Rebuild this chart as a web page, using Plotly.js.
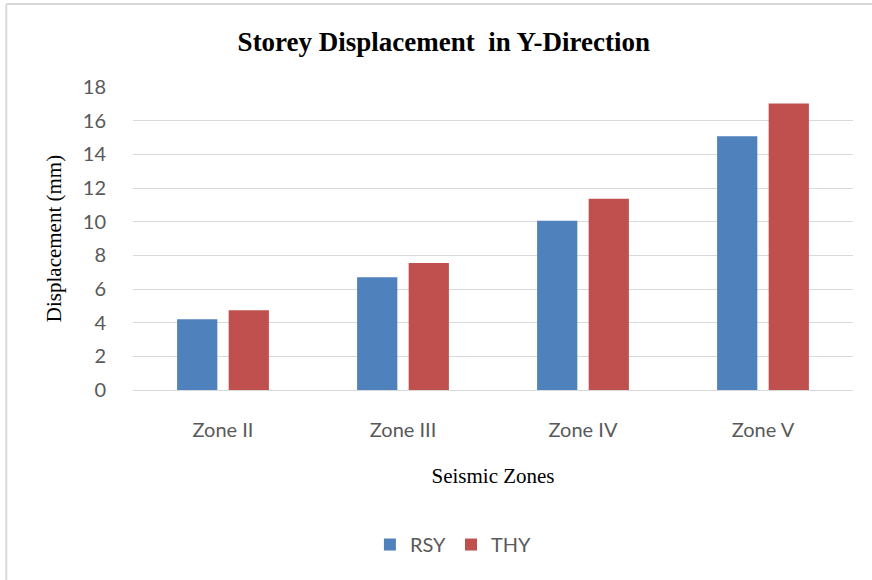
<!DOCTYPE html>
<html>
<head>
<meta charset="utf-8">
<script src="https://cdn.plot.ly/plotly-3.0.1.min.js"></script>
<style>html,body{margin:0;padding:0;background:#fff;}#chart{width:872px;height:580px;}</style>
</head>
<body>
<div id="chart"></div>
<script>
var zones = ["Zone II", "Zone III", "Zone IV", "Zone V"];
var rsy = [4.20, 6.70, 10.05, 15.08];
var thy = [4.74, 7.55, 11.36, 17.02];
var yTicks = [0, 2, 4, 6, 8, 10, 12, 14, 16, 18];

var traces = [
  {type: "bar", name: "RSY", x: zones, y: rsy, marker: {color: "#4F81BD", line: {width: 0}}, hoverinfo: "none"},
  {type: "bar", name: "THY", x: zones, y: thy, marker: {color: "#C0504D", line: {width: 0}}, hoverinfo: "none"}
];

var tickFont = {family: "Lato, 'Open Sans', sans-serif", size: 20, color: "#595959"};
var serif = "'Liberation Serif', 'Times New Roman', serif";

var layout = {
  width: 872, height: 580,
  margin: {l: 133, r: 19, t: 87, b: 190},
  paper_bgcolor: "#ffffff", plot_bgcolor: "#ffffff",
  barmode: "group", bargap: 0.427, bargroupgap: 0.22,
  showlegend: true,
  title: {text: "<b>Storey Displacement\u00a0 in Y-Direction</b>", font: {family: serif, size: 27, color: "#000"}, x: 0.509, xanchor: "center", y: 0.928, yanchor: "middle"},
  xaxis: {
    type: "category", showgrid: false, zeroline: false,
    showline: true, linecolor: "#d9d9d9", linewidth: 1,
    ticks: "outside", ticklen: 22, tickcolor: "rgba(0,0,0,0)",
    tickfont: tickFont,
    title: {text: "Seismic Zones", font: {family: serif, size: 21, color: "#000"}, standoff: 28}
  },
  yaxis: {
    range: [0, 18], tickvals: yTicks, ticktext: yTicks.map(String),
    showgrid: true, gridcolor: "#d9d9d9", gridwidth: 1, zeroline: false,
    showline: false, ticks: "outside", ticklen: 22, tickcolor: "rgba(0,0,0,0)",
    tickfont: tickFont,
    title: {text: "Displacement (mm)", font: {family: serif, size: 21, color: "#000"}, standoff: 15}
  },
  legend: {orientation: "h", x: 0.445, xanchor: "center", y: -0.51, yanchor: "middle", font: {family: "Lato, 'Open Sans', sans-serif", size: 20, color: "#595959"}, itemwidth: 30, traceorder: "normal"},
  shapes: [
    {type: "line", xref: "paper", yref: "paper", x0: -0.176, x1: -0.176, y0: 1.274, y1: -0.63, line: {color: "#d9d9d9", width: 2}},
    {type: "line", xref: "paper", yref: "paper", x0: -0.176, x1: 1.03, y0: 1.274, y1: 1.274, line: {color: "#d9d9d9", width: 2}}
  ]
};

Plotly.newPlot("chart", traces, layout, {displayModeBar: false, staticPlot: true});
</script>
</body>
</html>
